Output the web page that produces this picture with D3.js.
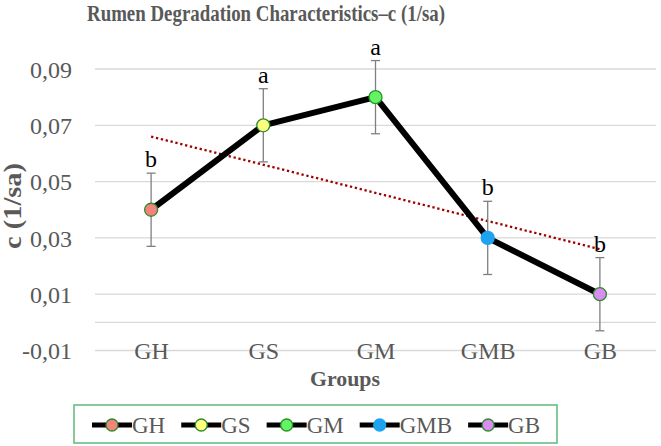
<!DOCTYPE html>
<html>
<head>
<meta charset="utf-8">
<script src="https://cdn.jsdelivr.net/npm/d3@7"></script>
<style>
  body { margin: 0; background: #fff; }
  text { font-family: "Liberation Serif", "Times New Roman", serif; }
</style>
</head>
<body>
<div id="chartContainer"></div>
<script>
// data
var groups = ["GH", "GS", "GM", "GMB", "GB"];
var means = [0.04, 0.07, 0.08, 0.03, 0.01];
var errors = [0.013, 0.013, 0.013, 0.013, 0.013];
var letters = ["b", "a", "a", "b", "b"];
var yTicks = [-0.01, 0.01, 0.03, 0.05, 0.07, 0.09];
var markerFill = ["#F4837D", "#FFFF80", "#66F266", "#1EA3F0", "#DA8CF2"];
var markerStroke = ["#2E8B2E", "#2E8B2E", "#1E9A1E", "#1EA3F0", "#2E8B2E"];

var width = 661, height = 446;
var plot = { left: 95, right: 656, top: 40.85, bottom: 350.5 };
var grey = "#595959";

var svg = d3.select("#chartContainer")
  .append("svg")
  .attr("width", width)
  .attr("height", height);

var xScale = d3.scalePoint().domain(groups).range([plot.left, plot.right]).padding(0.5);
var yScale = d3.scaleLinear().domain([-0.01, 0.10]).range([plot.bottom, plot.top]);

// gridlines
svg.append("g")
  .selectAll("line")
  .data(yTicks.concat([0]))
  .enter()
  .append("line")
  .attr("x1", plot.left)
  .attr("x2", plot.right)
  .attr("y1", d => yScale(d))
  .attr("y2", d => yScale(d))
  .attr("stroke", "#d9d9d9")
  .attr("stroke-width", 1.3);

// y axis labels
var yAxis = d3.axisLeft(yScale)
  .tickValues(yTicks)
  .tickSize(0)
  .tickPadding(23)
  .tickFormat(d => d3.format(".2f")(d).replace(".", ",").replace("−", "-"));
var yg = svg.append("g")
  .attr("transform", "translate(" + plot.left + ",0)")
  .call(yAxis);
yg.select(".domain").remove();
yg.selectAll("text")
  .attr("font-size", 24)
  .attr("fill", grey)
  .attr("dy", "0.34em");

// x axis labels
var xAxis = d3.axisBottom(xScale).tickSize(0).tickPadding(0);
var xg = svg.append("g")
  .attr("transform", "translate(0," + yScale(-0.01) + ")")
  .call(xAxis);
xg.select(".domain").remove();
xg.selectAll("text")
  .attr("font-size", 24)
  .attr("fill", grey)
  .attr("y", 0)
  .attr("dy", "0.34em");

// trendline (least squares on group index)
var idx = d3.range(1, groups.length + 1);
var mx = d3.mean(idx), my = d3.mean(means);
var slope = d3.sum(idx, (x, i) => (x - mx) * (means[i] - my)) / d3.sum(idx, x => (x - mx) * (x - mx));
var icpt = my - slope * mx;
svg.append("line")
  .attr("x1", xScale(groups[0]))
  .attr("x2", xScale(groups[groups.length - 1]))
  .attr("y1", yScale(icpt + slope * 1))
  .attr("y2", yScale(icpt + slope * groups.length))
  .attr("stroke", "#A00000")
  .attr("stroke-width", 2.3)
  .attr("stroke-dasharray", "2.3,2.7");

// error bars
var eb = svg.append("g").selectAll("g")
  .data(groups)
  .enter()
  .append("g")
  .attr("stroke", "#7f7f7f")
  .attr("stroke-width", 1.3);
eb.append("line")
  .attr("x1", d => xScale(d)).attr("x2", d => xScale(d))
  .attr("y1", (d, i) => yScale(means[i] + errors[i]))
  .attr("y2", (d, i) => yScale(means[i] - errors[i]));
eb.append("line")
  .attr("x1", d => xScale(d) - 4.5).attr("x2", d => xScale(d) + 4.5)
  .attr("y1", (d, i) => yScale(means[i] + errors[i]))
  .attr("y2", (d, i) => yScale(means[i] + errors[i]));
eb.append("line")
  .attr("x1", d => xScale(d) - 4.5).attr("x2", d => xScale(d) + 4.5)
  .attr("y1", (d, i) => yScale(means[i] - errors[i]))
  .attr("y2", (d, i) => yScale(means[i] - errors[i]));

// main line
var lineValue = d3.line()
  .x((d, i) => xScale(groups[i]))
  .y(d => yScale(d));
svg.append("path")
  .attr("d", lineValue(means))
  .attr("fill", "none")
  .attr("stroke", "#000")
  .attr("stroke-width", 6)
  .attr("stroke-linejoin", "round");

// markers
svg.selectAll(".dots")
  .data(means)
  .enter()
  .append("circle")
  .attr("class", "dots")
  .attr("cx", (d, i) => xScale(groups[i]))
  .attr("cy", d => yScale(d))
  .attr("r", 6.5)
  .attr("fill", (d, i) => markerFill[i])
  .attr("stroke", (d, i) => markerStroke[i])
  .attr("stroke-width", 1.3);

// significance letters
svg.selectAll(".sig")
  .data(letters)
  .enter()
  .append("text")
  .attr("class", "sig")
  .attr("x", (d, i) => xScale(groups[i]))
  .attr("y", (d, i) => yScale(means[i] + errors[i]) - 6)
  .attr("text-anchor", "middle")
  .attr("font-size", 24)
  .attr("fill", "#000")
  .text(d => d);

// title + axis titles
svg.append("text")
  .attr("x", 266)
  .attr("y", 21)
  .attr("text-anchor", "middle")
  .attr("font-size", 23)
  .attr("font-weight", "bold")
  .attr("fill", grey)
  .attr("textLength", 358)
  .attr("lengthAdjust", "spacingAndGlyphs")
  .text("Rumen Degradation Characteristics–c (1/sa)");

svg.append("text")
  .attr("transform", "translate(21,206) rotate(-90)")
  .attr("text-anchor", "middle")
  .attr("font-size", 25)
  .attr("font-weight", "bold")
  .attr("fill", grey)
  .attr("textLength", 86)
  .attr("lengthAdjust", "spacingAndGlyphs")
  .text("c (1/sa)");

svg.append("text")
  .attr("x", 345)
  .attr("y", 386)
  .attr("text-anchor", "middle")
  .attr("font-size", 22)
  .attr("font-weight", "bold")
  .attr("fill", grey)
  .attr("textLength", 70)
  .attr("lengthAdjust", "spacingAndGlyphs")
  .text("Groups");

// legend
var legend = svg.append("g");
legend.append("rect")
  .attr("x", 74).attr("y", 405)
  .attr("width", 483).attr("height", 38)
  .attr("fill", "none")
  .attr("stroke", "#5CB97B")
  .attr("stroke-width", 1.5);

var lx = 92, ly = 425;
groups.forEach(function(g, i) {
  var item = legend.append("g").attr("transform", "translate(" + lx + "," + ly + ")");
  item.append("line")
    .attr("x1", 0).attr("x2", 40)
    .attr("stroke", "#000").attr("stroke-width", 5);
  item.append("circle")
    .attr("cx", 20).attr("r", 6)
    .attr("fill", markerFill[i])
    .attr("stroke", markerStroke[i])
    .attr("stroke-width", 1.3);
  var t = item.append("text")
    .attr("x", 40)
    .attr("y", 8)
    .attr("font-size", 23)
    .attr("fill", grey)
    .text(g);
  lx += 40 + t.node().getComputedTextLength() + 16;
});
</script>
</body>
</html>
